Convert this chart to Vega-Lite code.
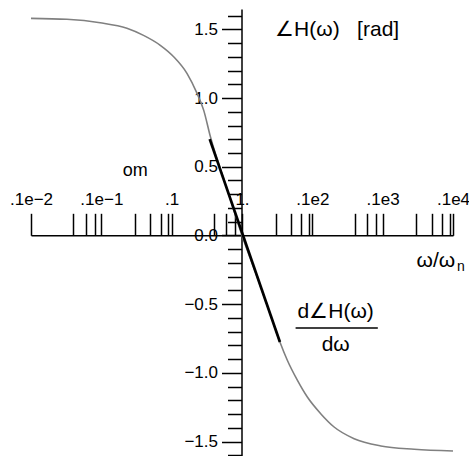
{
  "$schema": "https://vega.github.io/schema/vega-lite/v6.json",
  "width": 422,
  "height": 447,
  "autosize": {"type": "none"},
  "padding": {"left": 31, "top": 9, "right": 16, "bottom": 0},
  "background": "white",
  "config": {
    "view": {"stroke": null},
    "font": "Liberation Sans",
    "text": {"font": "Liberation Sans", "color": "black"}
  },
  "datasets": {
    "phase": [
      {"w": 0.001, "p": 1.58},
      {"w": 0.00323, "p": 1.573},
      {"w": 0.00962, "p": 1.548},
      {"w": 0.0231, "p": 1.508},
      {"w": 0.0398, "p": 1.456},
      {"w": 0.0689, "p": 1.384},
      {"w": 0.1067, "p": 1.301},
      {"w": 0.165, "p": 1.18},
      {"w": 0.2296, "p": 1.034},
      {"w": 0.285, "p": 0.912},
      {"w": 0.3556, "p": 0.718},
      {"w": 0.63, "p": 0.32},
      {"w": 1.0, "p": 0.0},
      {"w": 1.585, "p": -0.28},
      {"w": 2.512, "p": -0.57},
      {"w": 3.46, "p": -0.775},
      {"w": 4.41, "p": -0.908},
      {"w": 6.12, "p": -1.053},
      {"w": 8.49, "p": -1.176},
      {"w": 13.15, "p": -1.297},
      {"w": 20.4, "p": -1.394},
      {"w": 39.3, "p": -1.479},
      {"w": 94.2, "p": -1.532},
      {"w": 281, "p": -1.556},
      {"w": 1000, "p": -1.569}
    ],
    "tangent": [
      {"w": 0.3475, "p": 0.701},
      {"w": 3.46, "p": -0.775}
    ],
    "bar": [
      {"w": 5.78, "w2": 85.3, "p": -0.673}
    ],
    "labels": [
      {"w": 22.5, "p": 1.495, "t": "∠H(ω)\u00a0\u00a0\u00a0[rad]"},
      {"w": 21.5, "p": -0.559, "t": "d∠H(ω)"},
      {"w": 21.5, "p": -0.799, "t": "dω"},
      {"w": 570, "p": -0.187, "t": "ω/ω"}
    ],
    "axisName": [
      {"w": 0.0303, "p": 0.47, "t": "om"}
    ],
    "subscript": [
      {"w": 1300, "p": -0.228, "t": "n"}
    ]
  },
  "encoding": {
    "x": {
      "field": "w",
      "type": "quantitative",
      "scale": {"type": "log", "domain": [0.001, 1000], "nice": false},
      "axis": {
        "orient": "top",
        "offset": -226.3,
        "title": null,
        "grid": false,
        "values": [0.001, 0.004, 0.006, 0.008, 0.01, 0.03, 0.05, 0.07, 0.09, 0.1, 0.4, 0.6, 0.8, 1, 3, 5, 7, 9, 10, 40, 60, 80, 100, 300, 500, 700, 900, 1000],
        "labelExpr": "datum.value == 0.001 ? '.1e−2' : datum.value == 0.01 ? '.1e−1' : datum.value == 0.1 ? '.1' : datum.value == 1 ? '1.' : datum.value == 10 ? '.1e2' : datum.value == 100 ? '.1e3' : datum.value == 1000 ? '.1e4' : ''",
        "tickSize": 22,
        "tickWidth": 1.5,
        "tickColor": "black",
        "domainColor": "black",
        "domainWidth": 1.5,
        "labelFontSize": 17,
        "labelPadding": 5,
        "labelColor": "black",
        "labelOverlap": false,
        "labelFlush": false,
        "labelBound": false
      }
    },
    "y": {
      "field": "p",
      "type": "quantitative",
      "scale": {"domain": [-1.605, 1.648], "nice": false, "zero": false},
      "axis": {
        "orient": "left",
        "offset": -210.5,
        "title": null,
        "grid": false,
        "values": [-1.6, -1.5, -1.4, -1.3, -1.2, -1.1, -1.0, -0.9, -0.8, -0.7, -0.6, -0.5, -0.4, -0.3, -0.2, -0.1, 0, 0.1, 0.2, 0.3, 0.4, 0.5, 0.6, 0.7, 0.8, 0.9, 1.0, 1.1, 1.2, 1.3, 1.4, 1.5, 1.6],
        "labelExpr": "abs(datum.value * 2 - round(datum.value * 2)) < 0.01 ? format(datum.value, '.1f') : ''",
        "tickSize": {"condition": {"test": "abs(datum.value * 2 - round(datum.value * 2)) > 0.01", "value": 14}, "value": 20},
        "tickWidth": 1.5,
        "tickColor": "black",
        "domainColor": "black",
        "domainWidth": 1.5,
        "labelFontSize": 17,
        "labelPadding": 4,
        "labelColor": "black",
        "labelOverlap": false,
        "labelFlush": false,
        "labelBound": false
      }
    }
  },
  "layer": [
    {
      "data": {"name": "phase"},
      "mark": {"type": "line", "color": "#808080", "strokeWidth": 1.6, "interpolate": "monotone"}
    },
    {
      "data": {"name": "tangent"},
      "mark": {"type": "line", "color": "black", "strokeWidth": 2.7}
    },
    {
      "data": {"name": "bar"},
      "mark": {"type": "rule", "color": "black", "strokeWidth": 1.5},
      "encoding": {"x2": {"field": "w2"}}
    },
    {
      "data": {"name": "labels"},
      "mark": {"type": "text", "fontSize": 21, "align": "center", "baseline": "middle"},
      "encoding": {"text": {"field": "t"}}
    },
    {
      "data": {"name": "axisName"},
      "mark": {"type": "text", "fontSize": 18, "align": "center", "baseline": "middle"},
      "encoding": {"text": {"field": "t"}}
    },
    {
      "data": {"name": "subscript"},
      "mark": {"type": "text", "fontSize": 14, "align": "center", "baseline": "middle"},
      "encoding": {"text": {"field": "t"}}
    }
  ]
}
